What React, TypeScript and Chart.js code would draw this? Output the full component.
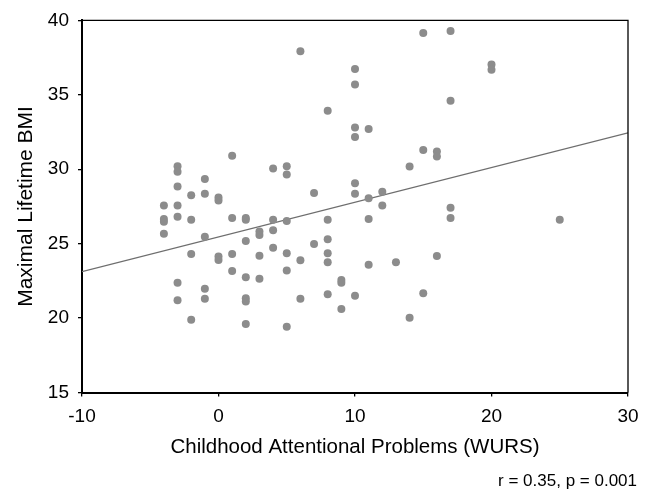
import React, { useEffect, useRef } from "react";
import { Chart, registerables } from "chart.js";

Chart.register(...registerables);

// Childhood Attentional Problems (WURS) scores
const wursScores = [
  -4, -4, -4, -4,
  -3, -3, -3, -3, -3, -3, -3,
  -2, -2, -2, -2,
  -1, -1, -1, -1, -1,
  0, 0, 0, 0,
  1, 1, 1, 1,
  2, 2, 2, 2, 2, 2, 2,
  3, 3, 3, 3,
  4, 4, 4, 4,
  5, 5, 5, 5, 5, 5,
  6, 6, 6,
  7, 7,
  8, 8, 8, 8, 8, 8,
  9, 9, 9,
  10, 10, 10, 10, 10, 10, 10,
  11, 11, 11, 11,
  12, 12,
  13,
  14, 14,
  15, 15, 15,
  16, 16, 16,
  17, 17, 17, 17,
  20, 20,
  25,
];

// Maximal Lifetime BMI
const bmiValues = [
  27.56, 26.66, 26.48, 25.67,
  30.2, 29.83, 28.84, 27.56, 26.8, 22.38, 21.19,
  28.26, 26.6, 24.31, 19.88,
  29.35, 28.35, 25.47, 21.97, 21.3,
  28.1, 27.9, 24.13, 23.9,
  30.9, 26.73, 24.31, 23.16,
  26.73, 26.6, 25.18, 22.74, 21.33, 21.12, 19.6,
  25.81, 25.59, 24.19, 22.64,
  30.05, 26.6, 25.9, 24.73,
  30.2, 29.64, 26.53, 24.35, 23.2, 19.42,
  37.92, 23.88, 21.3,
  28.41, 24.98,
  33.93, 26.6, 25.3, 24.35, 23.75, 21.6,
  22.56, 22.38, 20.61,
  36.73, 35.7, 32.8, 32.16, 29.06, 28.35, 21.5,
  32.7, 28.05, 26.66, 23.59,
  28.48, 27.56,
  23.75,
  30.18, 20.02,
  39.16, 31.3, 21.66,
  31.19, 30.85, 24.17,
  39.29, 34.6, 27.42, 26.73,
  37.03, 36.69,
  26.6,
];

// Regression line end points
const fitX = [-10, 30];
const fitY = [23.12, 32.45];

const xTicks = [-10, 0, 10, 20, 30];
const yTicks = [15, 20, 25, 30, 35, 40];

const xTitle = "Childhood Attentional Problems (WURS)";
const yTitle = "Maximal Lifetime BMI";
const statsNote = "r = 0.35, p = 0.001";

const FONT = "'Liberation Sans', Arial, Helvetica, sans-serif";

export default function App() {
  const canvasRef = useRef<HTMLCanvasElement | null>(null);

  useEffect(() => {
    const canvas = canvasRef.current;
    if (!canvas) return;

    const framePlugin = {
      id: "frameAndNote",
      afterDraw(chart: any) {
        const { ctx, chartArea } = chart;
        ctx.save();
        ctx.strokeStyle = "#000";
        ctx.lineWidth = 1.3;
        ctx.beginPath();
        ctx.moveTo(chartArea.left, chartArea.top);
        ctx.lineTo(chartArea.right, chartArea.top);
        ctx.lineTo(chartArea.right, chartArea.bottom);
        ctx.stroke();
        ctx.fillStyle = "#000";
        ctx.font = `17px ${FONT}`;
        ctx.textAlign = "right";
        ctx.textBaseline = "middle";
        ctx.fillText(statsNote, 637, 481);
        ctx.restore();
      },
    };

    const chart = new Chart(canvas, {
      type: "scatter",
      data: {
        datasets: [
          {
            label: "Subjects",
            data: wursScores.map((x, i) => ({ x, y: bmiValues[i] })),
            backgroundColor: "#8c8c8c",
            borderWidth: 0,
            pointRadius: 4,
            pointHoverRadius: 4,
          },
          {
            type: "line",
            label: "Fit",
            data: fitX.map((x, i) => ({ x, y: fitY[i] })),
            borderColor: "#6e6e6e",
            borderWidth: 1.3,
            pointRadius: 0,
            fill: false,
          } as any,
        ],
      },
      options: {
        animation: false,
        responsive: false,
        maintainAspectRatio: false,
        layout: { padding: { top: 19.5, right: 26, left: 0, bottom: 0 } },
        plugins: {
          legend: { display: false },
          tooltip: { enabled: false },
        },
        scales: {
          x: {
            type: "linear",
            min: -10,
            max: 30,
            afterBuildTicks(scale: any) {
              scale.ticks = xTicks.map((v) => ({ value: v }));
            },
            afterFit(scale: any) {
              scale.height = 102.5;
            },
            grid: {
              drawOnChartArea: false,
              drawTicks: true,
              tickLength: 4,
              color: "#000",
              lineWidth: 1.3,
            },
            border: { display: true, color: "#000", width: 2 },
            ticks: {
              color: "#000",
              font: { family: FONT, size: 19 },
              padding: 9,
              maxRotation: 0,
            },
            title: {
              display: true,
              text: xTitle,
              color: "#000",
              font: { family: FONT, size: 20.5 },
              padding: { top: 0, bottom: 35.5 },
            },
          },
          y: {
            type: "linear",
            min: 15,
            max: 40,
            afterBuildTicks(scale: any) {
              scale.ticks = yTicks.map((v) => ({ value: v }));
            },
            afterFit(scale: any) {
              scale.width = 82;
            },
            grid: {
              drawOnChartArea: false,
              drawTicks: true,
              tickLength: 4,
              color: "#000",
              lineWidth: 1.3,
            },
            border: { display: true, color: "#000", width: 2 },
            ticks: {
              color: "#000",
              font: { family: FONT, size: 19 },
              padding: 9,
            },
            title: {
              display: true,
              text: yTitle,
              color: "#000",
              font: { family: FONT, size: 21 },
              padding: { top: 13.4, bottom: 0 },
            },
          },
        },
      },
      plugins: [framePlugin],
    });

    return () => chart.destroy();
  }, []);

  return (
    <div style={{ position: "absolute", left: 0, top: 0, width: 654, height: 495, background: "#fff" }}>
      <canvas ref={canvasRef} width={654} height={495} style={{ width: 654, height: 495, display: "block" }} />
    </div>
  );
}
